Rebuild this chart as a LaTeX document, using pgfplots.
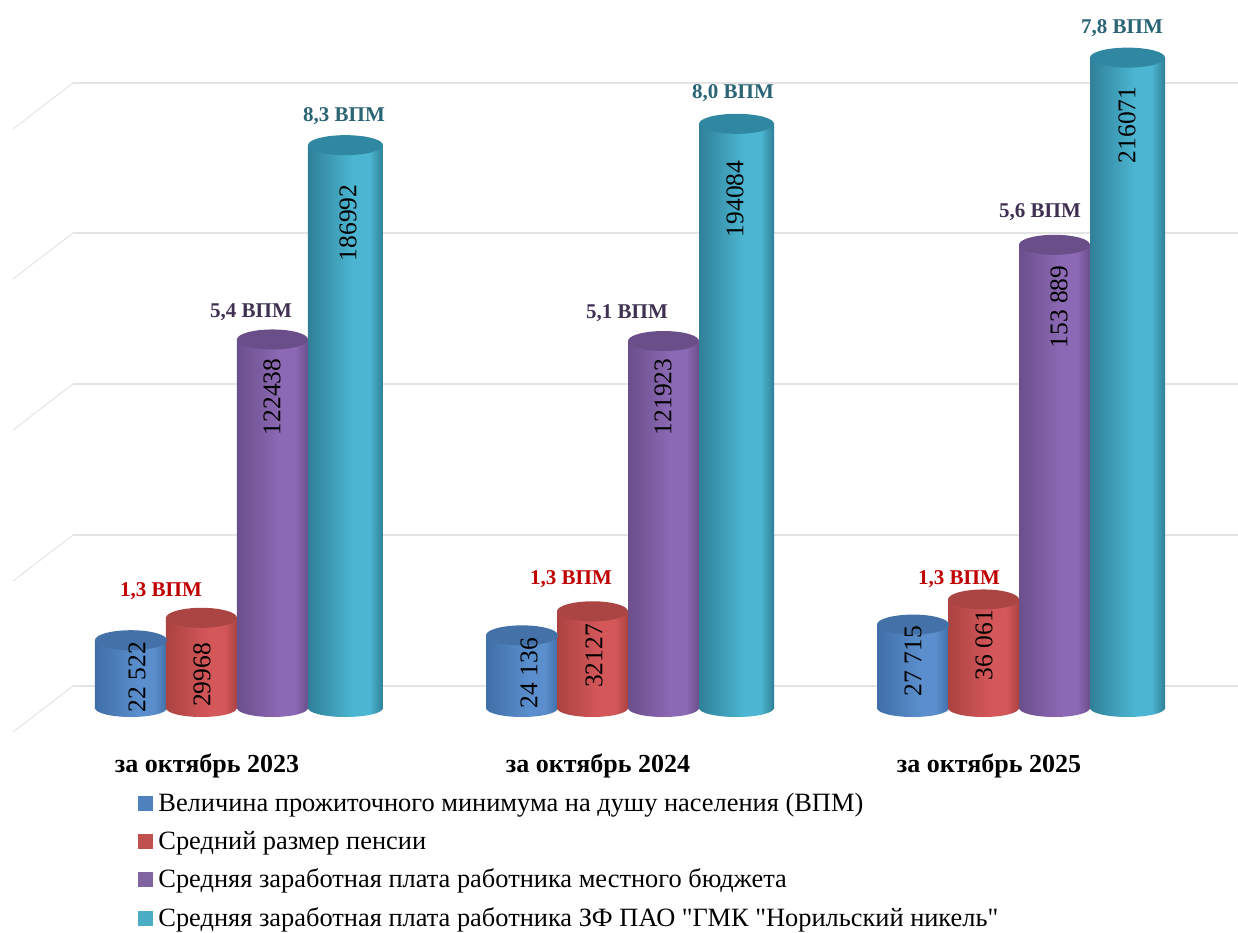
\documentclass[border=0pt]{standalone}
\usepackage{pgfplots}
\pgfplotsset{compat=1.18}
\usepackage{pgfplotstable}
\usepackage{fontspec}
\setmainfont{Liberation Serif}
\newfontfamily\qf{Liberation Serif}
\definecolor{eblue}{HTML}{3F6FA8}\definecolor{mblue}{HTML}{5A8ECC}\definecolor{tblue}{HTML}{4472A8}
\definecolor{ered}{HTML}{AB4341}\definecolor{mred}{HTML}{D4575A}\definecolor{tred}{HTML}{AB4543}
\definecolor{epur}{HTML}{6B4F8C}\definecolor{mpur}{HTML}{8C69B4}\definecolor{tpur}{HTML}{6A4E8A}
\definecolor{etea}{HTML}{2F8098}\definecolor{mtea}{HTML}{4CB6D2}\definecolor{ttea}{HTML}{2F87A2}
\definecolor{gridc}{HTML}{E4E4E4}
\definecolor{lgb}{HTML}{4F81BD}\definecolor{lgr}{HTML}{C0504D}\definecolor{lgp}{HTML}{8064A2}\definecolor{lgt}{HTML}{4BACC6}
\pgfdeclarehorizontalshading{sblue}{100bp}{color(0bp)=(eblue);color(25bp)=(eblue);color(55bp)=(mblue);color(66bp)=(mblue);color(75bp)=(eblue);color(100bp)=(eblue)}
\pgfdeclarehorizontalshading{sred}{100bp}{color(0bp)=(ered);color(25bp)=(ered);color(55bp)=(mred);color(66bp)=(mred);color(75bp)=(ered);color(100bp)=(ered)}
\pgfdeclarehorizontalshading{spur}{100bp}{color(0bp)=(epur);color(25bp)=(epur);color(55bp)=(mpur);color(66bp)=(mpur);color(75bp)=(epur);color(100bp)=(epur)}
\pgfdeclarehorizontalshading{stea}{100bp}{color(0bp)=(etea);color(25bp)=(etea);color(55bp)=(mtea);color(66bp)=(mtea);color(75bp)=(etea);color(100bp)=(etea)}
\newcommand{\cylmarks}[4]{% name, rx, top colour, shading
  \pgfdeclareplotmark{top#1}{\path[draw=none,fill=#3,rotate=4.5] (0pt,0pt) ellipse (#2pt and 10pt);}
  \pgfdeclareplotmark{base#1}{\path[draw=none,shade,shading=#4,rotate=4.5] (-#2pt,0pt) arc (180:360:#2pt and 9pt) -- cycle;}
}
\cylmarks{b}{36}{tblue}{sblue}
\cylmarks{r}{35.5}{tred}{sred}
\cylmarks{p}{35.5}{tpur}{spur}
\cylmarks{t}{37.5}{ttea}{stea}
\pgfplotstableread{
g v
0 22522
1 24136
2 27715
}\tblueT
\pgfplotstableread{
g v
0 29968
1 32127
2 36061
}\tredT
\pgfplotstableread{
g v
0 122438
1 121923
2 153889
}\tpurT
\pgfplotstableread{
g v
0 186992
1 194084
2 216071
}\tteaT
% shading, mark suffix, offset, table, bar width, lo, hi
\newcommand{\onebar}[7]{%
  \addplot[ybar,forget plot,bar shift=0pt,bar width=#5pt,draw=none,shade,shading=#1,restrict x to domain=#6:#7]
    table[x expr=\thisrow{g}+#3,y=v] {#4};
}
\newcommand{\cyl}[5]{%
  \onebar{#1}{#2}{#3}{#4}{#5}{-0.5}{0.5}
  \onebar{#1}{#2}{#3}{#4}{#5}{0.5}{1.5}
  \onebar{#1}{#2}{#3}{#4}{#5}{1.5}{2.5}
  \addplot[only marks,mark=base#2,mark options={draw=none},forget plot] table[x expr=\thisrow{g}+#3,y expr=0] {#4};
  \addplot[only marks,mark=top#2,mark options={draw=none},forget plot] table[x expr=\thisrow{g}+#3,y=v] {#4};
}
\newcommand{\tx}[4]{\node[#1] at (#2pt,{(745-#3)*1pt}) {#4};}
\newcommand{\vp}[3]{\tx{rotate=90,inner sep=0pt,text=black,font=\fontsize{25.5}{28}\selectfont}{#1}{#2}{#3}}
\newcommand{\tl}[4]{\tx{inner sep=0pt,text=#1,font=\fontsize{21}{24}\selectfont\bfseries}{#2}{#3}{#4}}
\definecolor{ltea}{HTML}{2A6475}\definecolor{lpur}{HTML}{403152}\definecolor{lred}{HTML}{C00000}
\begin{document}
\begin{tikzpicture}[x=1pt,y=1pt]
\useasboundingbox (0,-187) rectangle (1238,745);
\begin{axis}[
  at={(0pt,0pt)},anchor=south west,
  width=1238pt,height=745pt,scale only axis,
  xmin=-0.60870,xmax=2.55754,ymin=-12292,ymax=235216,
  clip=false,
  axis line style={draw=none},
  tick style={draw=none},
  ytick=\empty,
  xtick={0,1,2},
  xticklabels={за октябрь 2023,за октябрь 2024,за октябрь 2025},
  xticklabel style={xshift=-31pt,yshift=-5pt,font=\fontsize{26}{30}\selectfont\bfseries},
  legend cell align=left,
  legend style={at={(138pt,-46pt)},anchor=north west,draw=none,fill=none,inner sep=0pt,outer sep=0pt,
    font=\fontsize{26.4}{30}\selectfont\qf,/tikz/row sep=14.3pt,/tikz/column sep=4pt},
]
% grid
\addplot[gridc,line width=1pt,forget plot] coordinates {(-0.5754,192359)(-0.4220,207641)};
\addplot[gridc,line width=1pt,forget plot] coordinates {(-0.5754,142525)(-0.4220,157807)};
\addplot[gridc,line width=1pt,forget plot] coordinates {(-0.5754,92359)(-0.4220,107641)};
\addplot[gridc,line width=1pt,forget plot] coordinates {(-0.5754,42193)(-0.4220,57475)};
\addplot[gridc,line width=1pt,forget plot] coordinates {(-0.5754,-7973)(-0.4220,7309)};
\addplot[gridc,line width=2.4pt,forget plot] coordinates {(-0.4220,207641)(2.55754,207641)};
\addplot[gridc,line width=2.4pt,forget plot] coordinates {(-0.4220,157807)(2.55754,157807)};
\addplot[gridc,line width=2.4pt,forget plot] coordinates {(-0.4220,107641)(2.55754,107641)};
\addplot[gridc,line width=2.4pt,forget plot] coordinates {(-0.4220,57475)(2.55754,57475)};
\addplot[gridc,line width=2.4pt,forget plot] coordinates {(-0.4220,7309)(2.55754,7309)};
\cyl{sblue}{b}{-0.2737}{\tblueT}{72}
\cyl{sred}{r}{-0.0934}{\tredT}{71}
\cyl{spur}{p}{0.0882}{\tpurT}{71}
\cyl{stea}{t}{0.2749}{\tteaT}{75}
\addlegendimage{legend image code/.code={\fill[lgb] (0pt,-7pt) rectangle (14pt,7pt);}}
\addlegendentry{Величина прожиточного минимума на душу населения (ВПМ)}
\addlegendimage{legend image code/.code={\fill[lgr] (0pt,-7pt) rectangle (14pt,7pt);}}
\addlegendentry{Средний размер пенсии}
\addlegendimage{legend image code/.code={\fill[lgp] (0pt,-7pt) rectangle (14pt,7pt);}}
\addlegendentry{Средняя заработная плата работника местного бюджета}
\addlegendimage{legend image code/.code={\fill[lgt] (0pt,-7pt) rectangle (14pt,7pt);}}
\addlegendentry{Средняя заработная плата работника ЗФ ПАО "ГМК "Норильский никель"}
\end{axis}
\vp{137}{677}{22 522}\vp{202}{675}{29968}\vp{272}{397}{122438}\vp{348}{223}{186992}
\vp{529}{673}{24 136}\vp{594}{656}{32127}\vp{663}{397}{121923}\vp{735}{199}{194084}
\vp{913}{661}{27 715}\vp{984}{645}{36 061}\vp{1059}{307}{153 889}\vp{1127}{125}{216071}
\tl{ltea}{344}{116}{8,3 ВПМ}\tl{lpur}{251}{312}{5,4 ВПМ}\tl{lred}{161}{591}{1,3 ВПМ}
\tl{ltea}{733}{93}{8,0 ВПМ}\tl{lpur}{627}{313}{5,1 ВПМ}\tl{lred}{571}{579}{1,3 ВПМ}
\tl{ltea}{1122}{28}{7,8 ВПМ}\tl{lpur}{1040}{212}{5,6 ВПМ}\tl{lred}{959}{579}{1,3 ВПМ}
\end{tikzpicture}
\end{document}
